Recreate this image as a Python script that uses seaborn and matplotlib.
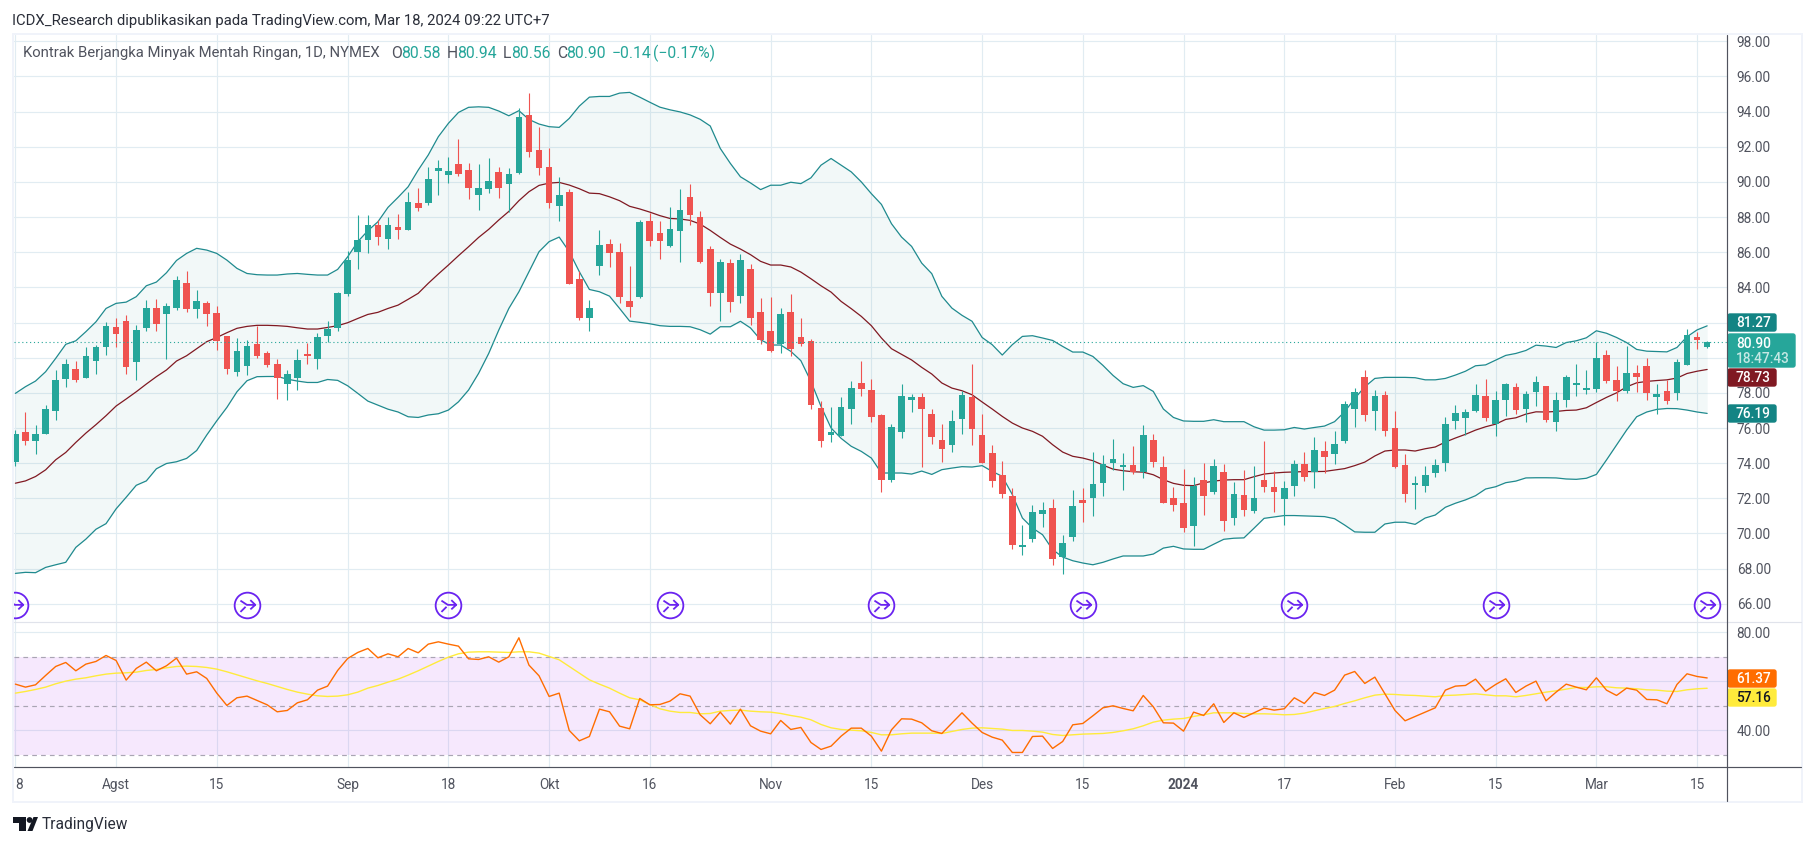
import numpy as np
import matplotlib
matplotlib.use("Agg")
import matplotlib.pyplot as plt
import seaborn as sns
from matplotlib.path import Path
from matplotlib.patches import FancyBboxPatch, Polygon, Rectangle, Circle

W, H = 1815, 846

opens = [74.04,75.79,75.28,75.68,76.98,78.8,79.35,78.86,79.83,80.62,
81.74,82.08,79.77,81.68,82.82,82.48,82.82,84.24,82.76,83.11,
82.54,81.23,79.18,79.52,80.77,80.26,79.64,78.5,78.84,80.15,
79.92,81.23,81.68,83.62,86.0,86.69,87.54,86.75,87.43,87.26,
88.79,88.79,90.62,90.39,91.01,90.67,89.25,89.59,90.56,89.88,
90.5,93.8,91.81,90.84,88.62,89.42,84.47,82.25,85.21,86.46,
86.03,83.24,83.47,87.79,87.11,86.37,87.22,89.12,88.0,86.2,
83.7,85.4,83.53,85.06,82.62,81.53,80.79,82.62,81.19,80.97,
77.15,75.62,75.56,77.1,78.58,78.17,76.76,73.06,75.79,77.61,
77.78,76.81,75.33,75.05,76.53,77.78,75.62,74.59,73.34,72.15,
69.25,69.7,71.12,71.47,68.68,69.82,71.92,72.03,72.89,74.03,
73.8,73.91,73.51,75.33,73.8,72.03,71.75,70.44,73.06,72.38,
73.5,70.88,72.19,71.28,73.04,72.64,71.96,72.7,73.95,73.5,
74.69,74.52,75.26,77.08,78.89,76.96,77.87,76.0,73.89,72.76,
72.7,73.44,74.01,76.39,76.56,76.96,77.81,76.22,77.59,78.33,
77.08,78.04,78.38,76.34,77.59,78.44,78.16,78.21,80.14,78.72,
78.1,79.12,79.52,77.76,78.1,77.98,79.58,81.17,80.58]
highs = [75.9,76.93,76.19,77.33,79.3,79.92,79.81,80.58,80.72,82.03,
82.25,82.42,81.85,83.28,83.33,83.11,84.64,84.93,83.85,83.22,
82.94,81.23,81.12,81.0,81.8,80.38,79.92,79.3,80.49,80.83,
81.4,82.08,83.73,86.06,88.11,88.11,87.83,88.0,88.17,89.42,
89.65,90.84,91.24,91.41,92.44,91.07,91.01,91.35,90.84,90.79,
94.2,95.05,93.12,91.92,90.27,89.59,84.93,83.28,87.26,86.75,
86.54,85.23,87.85,88.23,87.79,88.59,89.58,89.87,88.36,86.37,
85.63,85.63,85.91,85.35,83.41,83.47,82.84,83.64,82.27,81.08,
77.55,77.21,77.78,78.69,79.83,78.8,76.81,76.24,78.52,77.95,
78.01,77.1,76.24,77.04,78.12,79.66,76.81,75.05,74.14,72.6,
70.5,71.64,71.81,71.98,69.93,72.49,72.6,74.65,74.48,75.39,
74.59,74.99,76.19,75.68,74.42,72.66,73.68,73.23,74.03,74.25,
73.95,72.93,73.61,73.84,75.26,73.55,72.98,74.18,74.63,75.48,
75.26,75.83,77.53,78.27,79.29,78.16,78.1,76.96,74.52,73.27,
73.84,74.23,76.62,77.3,77.08,78.5,78.78,78.1,78.55,78.55,
78.1,78.95,78.38,78.04,79.01,79.63,79.29,80.88,80.43,79.52,
80.66,79.58,79.97,78.5,78.72,79.92,81.62,81.45,80.94]
lows = [73.85,75.05,74.53,75.68,76.45,78.35,78.61,78.86,79.07,80.17,
80.62,79.07,78.73,81.51,81.51,79.92,82.71,82.59,82.25,81.8,
80.43,79.07,78.95,79.0,79.98,79.49,77.65,77.59,78.16,79.64,
79.35,80.89,81.51,83.5,85.04,85.95,86.41,86.18,86.75,87.26,
88.34,88.68,89.25,89.93,90.33,89.02,88.4,89.36,89.08,88.28,
90.44,91.41,90.39,88.51,87.77,84.19,82.14,81.51,84.7,85.15,
83.13,82.33,83.41,86.37,85.63,86.31,85.46,87.56,85.4,82.96,
82.1,82.62,83.13,81.88,80.79,80.34,80.28,80.11,80.68,77.1,
74.94,75.22,75.56,76.24,77.84,76.36,72.38,72.95,75.45,76.93,
73.8,75.1,74.08,74.65,75.68,75.05,74.01,72.66,72.03,69.13,
68.79,69.53,70.38,68.22,67.71,69.59,70.67,71.01,72.15,73.63,
72.49,73.4,73.17,73.8,71.75,71.3,70.1,69.3,71.07,72.26,
70.14,70.48,71.0,71.17,72.36,71.22,70.48,72.13,72.98,72.59,
73.44,73.95,75.14,76.05,76.39,75.88,75.54,73.72,71.79,71.39,
72.36,73.21,73.55,75.94,75.6,76.91,76.39,75.54,76.68,76.79,
76.34,77.25,76.34,75.83,77.19,77.81,77.93,78.04,78.55,77.53,
77.98,78.04,77.59,76.79,77.36,77.59,79.58,80.48,80.56]
closes = [75.68,75.28,75.68,77.1,78.73,79.64,78.75,80.09,80.6,81.8,
81.34,79.49,81.57,82.82,81.91,82.94,84.41,82.76,83.22,82.48,
80.96,79.35,80.38,80.66,80.09,79.58,78.86,79.07,79.86,80.09,
81.17,81.63,83.67,85.55,86.69,87.54,86.86,87.54,87.26,88.85,
88.51,90.16,90.79,90.62,90.44,89.65,89.65,90.05,89.65,90.44,
93.69,91.7,90.79,88.79,89.25,84.19,82.25,82.82,86.41,85.95,
83.47,82.9,87.73,86.65,86.65,87.34,88.42,88.1,85.46,83.7,
85.46,83.18,85.57,82.27,81.02,80.4,82.5,80.51,80.79,77.33,
75.28,75.79,77.21,78.29,78.23,76.64,73.06,76.07,77.84,77.78,
77.1,75.5,74.82,76.41,77.89,75.96,74.01,73.0,72.26,69.36,
69.36,71.24,71.35,68.57,69.47,71.58,71.75,72.83,73.97,74.25,
73.91,73.51,75.62,74.08,71.75,71.64,70.33,72.72,72.15,73.86,
70.71,72.25,71.34,72.02,72.64,72.36,72.59,73.95,73.21,74.75,
74.35,75.09,77.36,78.04,76.73,77.81,75.83,73.78,72.25,72.81,
73.33,73.89,76.22,76.85,76.91,77.87,76.56,77.59,78.5,77.02,
77.93,78.61,76.45,77.59,78.89,78.55,78.27,79.97,78.67,78.1,
79.12,78.89,77.98,77.93,77.53,79.75,81.28,81.0,80.9]

bb_upper = [77.97,78.35,78.67,79.2,79.96,80.76,80.96,81.48,82.04,82.8,
83.09,83.16,83.47,84.09,84.3,84.83,85.53,85.93,86.22,86.12,
85.93,85.55,85.08,84.79,84.72,84.7,84.7,84.76,84.79,84.74,
84.7,84.7,85.02,85.74,86.6,87.22,87.73,88.55,89.12,89.72,
90.67,91.53,92.57,93.33,93.95,94.24,94.27,94.24,94.03,93.76,
94.05,93.55,93.29,93.14,93.1,93.61,94.31,94.82,94.86,94.86,
95.05,95.09,94.82,94.53,94.25,94.1,93.98,93.81,93.56,93.18,
91.9,91.05,90.29,89.94,89.56,89.81,89.81,89.98,89.9,90.23,
90.95,91.33,90.95,90.57,90.0,89.33,88.72,87.62,86.86,86.33,
85.38,84.78,83.49,82.82,82.41,82.07,81.15,80.74,80.15,80.74,
81.21,81.25,81.12,80.98,80.64,80.32,80.32,80.07,79.56,78.99,
78.52,78.31,78.41,78.08,77.08,76.6,76.4,76.38,76.38,76.47,
76.36,76.36,76.36,76.07,75.88,75.88,75.9,76.03,75.94,76.03,
76.11,76.36,76.92,77.68,78.34,78.82,78.88,78.88,78.88,78.86,
78.74,78.74,78.82,79.01,79.23,79.54,79.59,79.86,80.13,80.24,
80.41,80.71,80.66,80.58,80.86,80.96,81.13,81.53,81.39,81.15,
80.86,80.47,80.37,80.35,80.33,80.58,81.19,81.58,81.81]
bb_middle = [72.86,72.99,73.24,73.62,74.19,74.61,75.18,75.71,76.19,76.7,
77.25,77.65,78.06,78.5,78.92,79.3,79.81,80.11,80.51,80.91,
81.15,81.42,81.67,81.78,81.84,81.84,81.82,81.78,81.7,81.63,
81.63,81.72,81.82,81.99,82.23,82.46,82.58,82.8,82.99,83.32,
83.66,84.23,84.76,85.27,85.8,86.31,86.84,87.3,87.83,88.32,
88.93,89.44,89.8,89.93,89.97,89.82,89.61,89.36,89.33,89.15,
88.93,88.61,88.46,88.28,88.08,87.92,87.89,87.81,87.6,87.24,
86.84,86.46,86.18,85.86,85.48,85.27,85.27,85.16,84.87,84.49,
84.09,83.73,83.2,82.79,82.35,81.82,81.12,80.51,80.19,79.87,
79.45,79.07,78.56,78.27,78.12,77.89,77.48,77.08,76.66,76.28,
76.0,75.81,75.53,75.05,74.63,74.39,74.29,74.14,73.89,73.66,
73.57,73.51,73.49,73.34,73.06,72.85,72.74,72.72,72.88,72.98,
73.04,73.06,73.06,73.23,73.38,73.44,73.48,73.5,73.52,73.52,
73.53,73.61,73.69,73.86,74.06,74.41,74.69,74.75,74.75,74.69,
74.82,74.92,75.2,75.43,75.64,75.88,76.07,76.22,76.49,76.58,
76.79,76.92,76.91,76.94,77.0,77.02,77.15,77.45,77.74,78.0,
78.34,78.57,78.65,78.7,78.74,78.84,79.1,79.23,79.33]
bb_lower = [67.73,67.79,67.77,68.07,68.22,68.36,69.21,69.68,70.24,70.56,
71.4,72.06,72.74,72.99,73.68,73.98,74.08,74.27,74.72,75.6,
76.41,77.17,78.06,78.69,78.92,78.93,78.93,78.78,78.67,78.59,
78.59,78.76,78.71,78.4,77.97,77.53,77.3,77.07,76.91,76.64,
76.6,76.74,76.81,77.02,77.49,78.16,79.11,80.24,81.57,82.8,
83.75,84.89,86.03,86.6,86.86,86.03,84.89,83.88,83.75,83.5,
82.8,82.08,82.01,81.93,81.82,81.78,81.78,81.76,81.59,81.34,
81.76,81.76,82.07,81.69,81.02,80.72,80.72,80.36,79.83,78.65,
77.23,76.0,75.41,74.96,74.67,74.29,73.44,73.44,73.44,73.38,
73.55,73.36,73.63,73.72,73.8,73.78,73.86,73.53,73.25,72.21,
70.88,70.31,69.93,69.08,68.66,68.45,68.32,68.22,68.36,68.55,
68.72,68.72,68.72,68.83,69.17,69.27,69.12,69.1,69.1,69.39,
69.67,69.73,69.75,70.3,70.86,70.94,71.02,71.02,71.0,70.98,
70.96,70.84,70.48,70.09,70.07,70.07,70.54,70.64,70.64,70.52,
70.88,71.05,71.49,71.72,71.91,72.15,72.53,72.66,72.89,72.98,
73.16,73.17,73.17,73.16,73.1,73.08,73.14,73.36,74.18,75.03,
75.88,76.64,76.91,77.06,77.11,77.1,77.02,76.91,76.83]

rsi = [58.84,57.62,58.57,62.38,66.05,67.69,64.29,67.01,68.1,70.54,
68.5,60.48,65.24,67.82,64.29,66.33,69.46,62.93,63.88,61.16,
55.17,50.14,53.27,53.95,52.18,50.41,47.55,48.1,51.22,52.45,
56.39,58.03,64.42,69.32,71.77,73.4,69.59,71.22,70.0,73.4,
71.63,75.17,76.12,75.17,74.35,69.18,68.91,70.0,67.82,70.0,
77.76,66.6,62.24,53.81,55.17,39.93,35.71,37.48,48.64,47.55,
41.7,40.61,52.99,50.41,50.54,51.9,54.9,53.95,46.33,42.65,
47.41,42.52,48.64,41.84,39.66,38.57,44.01,40.34,41.16,35.03,
32.18,33.54,37.62,40.88,40.88,37.62,31.5,40.2,44.69,44.56,
43.06,39.8,38.71,42.93,47.14,42.93,39.12,37.21,35.99,30.95,
30.95,37.48,37.62,32.59,35.44,42.24,42.79,45.92,49.18,50.0,
48.91,47.96,54.22,49.59,43.06,42.93,39.66,47.41,46.05,50.82,
43.2,47.14,45.24,47.14,49.05,48.23,48.78,53.27,50.95,55.44,
54.22,56.39,62.52,64.01,59.12,61.7,54.9,48.1,43.88,45.65,
47.41,49.18,56.39,58.03,58.3,60.88,55.99,58.71,61.02,55.44,
58.03,60.07,52.04,55.58,58.84,57.62,56.53,61.43,56.39,54.22,
57.21,56.39,52.59,52.45,50.82,58.71,63.06,61.97,61.37]
rsi_ma = [55.17,55.85,56.67,57.62,58.98,60.07,60.88,61.43,62.24,62.93,
63.33,63.47,63.74,64.42,64.83,65.51,66.05,66.19,66.05,65.65,
64.97,63.88,62.65,61.43,60.2,59.12,57.89,56.67,55.58,54.76,
54.08,53.81,53.95,54.49,55.58,57.21,58.3,59.66,60.88,62.52,
64.29,66.19,68.1,69.86,71.22,71.9,72.04,72.04,71.9,71.77,
72.04,72.04,71.5,70.14,68.78,66.05,63.33,60.61,58.84,57.21,
55.17,53.27,52.45,50.54,48.78,47.82,47.28,47.28,46.73,46.87,
47.82,48.1,48.23,47.82,47.55,47.41,46.87,46.05,45.37,44.29,
42.38,41.02,40.34,40.07,39.8,39.12,38.16,38.16,38.57,38.84,
38.84,38.84,38.71,39.52,40.34,40.88,41.02,40.75,40.48,39.93,
39.93,39.66,39.25,38.3,37.89,38.16,38.44,38.57,38.71,39.12,
39.8,40.61,41.84,43.33,44.15,44.56,44.83,45.65,46.33,47.14,
47.14,47.14,46.87,46.73,46.73,46.6,46.33,46.46,47.01,47.96,
48.91,49.73,50.95,52.04,53.27,54.35,54.76,54.63,54.35,54.22,
53.95,53.67,54.22,54.35,54.63,54.9,54.49,54.08,54.08,53.67,
54.22,54.9,55.58,56.12,56.8,57.48,57.48,57.76,57.76,57.35,
57.21,56.94,56.53,56.39,55.99,55.85,56.53,56.94,57.16]

tick_bars = [0,10,20,33,43,53,63,75,85,96,106,116,126,137,147,157,167]
tick_texts = ['8','Agst','15','Sep','18','Okt','16','Nov','15','Des','15','2024','17','Feb','15','Mar','15']
price_ticks = list(range(66, 100, 2))
hidden_price_ticks = [80, 82]
rsi_ticks = [80, 60, 40]
rsi_ticks_shown = [80, 40]
rsi_bands = [70, 50, 30]
event_bars = [0, 23, 43, 65, 86, 106, 127, 147, 168]
event_level = 65.93
last_price = 80.90

GREEN, RED = '#26a69a', '#ef5350'
GRID = '#e1ecf2'
TXT = '#50535e'
BAND = '#138484'
FONT = ['Roboto', 'DejaVu Sans']

sns.set_theme(style='white')
plt.rcParams['font.family'] = FONT
plt.rcParams['axes.unicode_minus'] = False

fig = plt.figure(figsize=(W/100, H/100), dpi=100, facecolor='white')

def rect(x0, y0, x1, y1):
    return [x0/W, 1-y1/H, (x1-x0)/W, (y1-y0)/H]

L, R = 14, 1727
ax = fig.add_axes(rect(L, 35, R, 622))
ar = fig.add_axes(rect(L, 622, R, 767))
x = np.arange(len(opens))
xlim = ((L-15.4)/10.07, (R-15.4)/10.07)

def price_at(py):
    return 96-(py-76.4)/17.58
def rsi_at(py):
    return 80-(py-632.3)/2.45

for a in (ax, ar):
    a.set_xlim(*xlim)
    a.set_facecolor('white')
    a.set_axisbelow(True)
    for s in a.spines.values():
        s.set_visible(False)
    a.set_xticks(tick_bars)
    a.grid(True, color=GRID, lw=0.85)
ax.set_ylim(price_at(622), price_at(35))
ar.set_ylim(rsi_at(767), rsi_at(622))

# bands
ax.fill_between(x, bb_lower, bb_upper, color='#138484', alpha=0.05, lw=0, zorder=1)
for series, col in ((bb_upper, '#1f8a8e'), (bb_lower, '#1f8a8e'), (bb_middle, '#801922')):
    sns.lineplot(x=x, y=series, ax=ax, color=col, lw=0.9, zorder=2, errorbar=None, legend=False)

# candles
o, h, l, c = map(np.array, (opens, highs, lows, closes))
up = c >= o
colors = np.where(up, GREEN, RED)
ax.vlines(x, l, h, colors=colors, lw=0.8, zorder=3)
ax.bar(x, np.maximum(np.abs(c-o), 0.1), bottom=np.minimum(o, c), width=0.66, color=colors, lw=0, zorder=4)
ax.axhline(last_price, color=GREEN, lw=0.8, ls=(0, (1, 2.5)), zorder=5)

# event markers
circ = Path.unit_circle()
arrow = Path([(-.55,.38),(-.05,.05),(.6,.05),(.22,.42),(.6,.05),(.22,-.3),(-.55,-.5),(-.15,-.1)],
             [1,2,2,1,2,2,1,2])
icon = Path.make_compound_path(circ, arrow)
ax.plot(event_bars, [event_level]*len(event_bars), ls='', marker=icon, ms=18.5,
        mfc='none', mec='#6a23f0', mew=1.3, zorder=6)

# price axis
ax.set_yticks(price_ticks)
ax.set_yticklabels(['' if t in hidden_price_ticks else f'{t:.2f}' for t in price_ticks])
ax.yaxis.tick_right()
ax.tick_params(axis='y', length=0, pad=7, labelsize=9.8, labelcolor=TXT)
ax.tick_params(axis='x', length=0, labelbottom=False)

# RSI
ar.axhspan(min(rsi_bands), max(rsi_bands), color='#b13cf0', alpha=0.115, lw=0, zorder=1)
for b in rsi_bands:
    ar.axhline(b, color='#a9a5b3', lw=0.85, ls=(0, (4, 3.5)), zorder=2)
sns.lineplot(x=x, y=rsi_ma, ax=ar, color='#ffeb3b', lw=1.0, zorder=3, errorbar=None, legend=False)
sns.lineplot(x=x, y=rsi, ax=ar, color='#ff6d00', lw=1.0, zorder=4, errorbar=None, legend=False)
ar.set_yticks(rsi_ticks)
ar.set_yticklabels([f'{t:.2f}' if t in rsi_ticks_shown else '' for t in rsi_ticks])
ar.yaxis.tick_right()
ar.tick_params(axis='y', length=0, pad=7, labelsize=9.8, labelcolor=TXT)
ar.set_xticklabels(tick_texts)
ar.tick_params(axis='x', length=0, pad=8, labelsize=9.8, labelcolor=TXT)
for i, t in enumerate(ar.get_xticklabels()):
    if t.get_text() == '2024':
        t.set_fontweight('bold')
    if i == 0:
        t.set_ha('left')

# chrome overlay in pixel space
ov = fig.add_axes([0, 0, 1, 1], zorder=10)
ov.set_xlim(0, W); ov.set_ylim(H, 0); ov.axis('off'); ov.patch.set_alpha(0)

FR = '#f0f3fa'
for (a0, b0, a1, b1) in ((12, 33, 1803, 35), (12, 801, 1803, 803), (12, 33, 14, 803), (1801, 33, 1803, 803)):
    ov.add_patch(Rectangle((a0, b0), a1-a0, b1-b0, color=FR, lw=0))
ov.plot([L, 1801], [622, 622], color='#e0e3eb', lw=0.85)
ov.plot([L, 1801], [767, 767], color=TXT, lw=0.85)
ov.plot([R, R], [35, 801], color=TXT, lw=0.85)

def box(x0, y0, x1, y1, col):
    ov.add_patch(FancyBboxPatch((x0+1, y0+1), x1-x0-2, y1-y0-2, boxstyle='round,pad=0,rounding_size=2',
                                mutation_aspect=1, fc=col, ec=col, lw=1.0))
def label(y, s, col='white', **kw):
    ov.text(1736, y, s, color=col, fontsize=9.8, va='center', ha='left', fontweight='medium', **kw)

box(R, 313, 1777, 332, BAND);        label(323, '81.27')
box(R, 333, 1796, 368, GREEN);       label(343.5, '80.90'); label(359, '18:47:43', col='#c5e8e4')
box(R, 368, 1777, 387, '#801922');   label(378, '78.73')
box(R, 404, 1777, 423, BAND);        label(414, '76.19')
box(R, 669, 1777, 688, '#ff6d00');   label(679, '61.37')
box(R, 688, 1777, 707, '#ffeb3b');   label(698, '57.16', col='#131722')

HS = 10.7
ov.text(12, 20.5, 'ICDX_Research dipublikasikan pada TradingView.com, Mar 18, 2024 09:22 UTC+7',
        fontsize=HS, color='#2a2e39', va='center')
ov.text(23, 53.5, 'Kontrak Berjangka Minyak Mentah Ringan, 1D, NYMEX', fontsize=HS, color=TXT, va='center')
for xp, s, col in ((391, 'O', TXT), (401, '80.58', GREEN), (447, 'H', TXT), (457, '80.94', GREEN),
                   (503, 'L', TXT), (511, '80.56', GREEN), (557, 'C', TXT), (566, '80.90', GREEN),
                   (612, '\u22120.14', GREEN), (653, '(\u22120.17%)', GREEN)):
    ov.text(xp, 53.5, s, fontsize=HS+0.6, color=col, va='center')

# TradingView logo
LOGO = '#131722'
ov.add_patch(Polygon([(13, 817), (26, 817), (26, 831), (19.5, 831), (19.5, 823), (13, 823)], color=LOGO, lw=0))
ov.add_patch(Circle((29.6, 820), 2.9, color=LOGO, lw=0))
ov.add_patch(Polygon([(33.5, 817), (38, 817), (32.5, 831), (27.5, 831)], color=LOGO, lw=0))
ov.text(42, 824.5, 'TradingView', fontsize=11.2, color='#2a2e39', va='center')

fig.savefig('out.png', dpi=100, facecolor='white')
